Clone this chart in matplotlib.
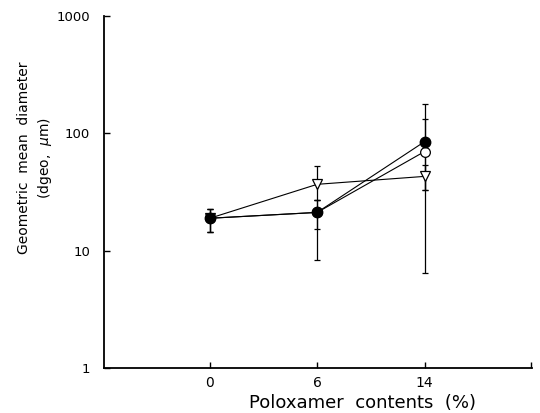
import matplotlib.pyplot as plt

# poloxamer content (%) shown as evenly spaced categories
poloxamer = ['0', '6', '14']
positions = [1, 2, 3]

# geometric mean diameter (um)
filled_mean = [18.9, 21.2, 85]
filled_lo = [14.5, 15.3, 6.4]
filled_hi = [22.5, 27, 179]

open_mean = [18.9, 21.2, 70]
open_lo = [14.5, 8.4, 33]
open_hi = [22.5, 27, 133]

tri_mean = [18.9, 36.8, 43]
tri_lo = [14.5, 27, 33]
tri_hi = [22.5, 53, 54]


def yerr(mean, lo, hi):
    return [[m - l for m, l in zip(mean, lo)], [h - m for m, h in zip(mean, hi)]]


fig = plt.figure(figsize=(5.4, 4.13), dpi=100)
ax = fig.add_axes([0.1926, 0.109, 0.7924, 0.852])

style = dict(color='black', lw=0.8, elinewidth=0.9, capsize=2.2, capthick=0.9)
ax.errorbar(positions, tri_mean, yerr=yerr(tri_mean, tri_lo, tri_hi), marker='v',
            ms=7.5, mfc='white', mec='black', mew=0.9, **style)
ax.errorbar(positions, open_mean, yerr=yerr(open_mean, open_lo, open_hi), marker='o',
            ms=7, mfc='white', mec='black', mew=0.9, **style)
ax.errorbar(positions, filled_mean, yerr=yerr(filled_mean, filled_lo, filled_hi), marker='o',
            ms=7.5, mfc='black', mec='black', **style)

ax.set_yscale('log')
ax.set_ylim(1, 1000)
ax.set_yticks([1, 10, 100, 1000])
ax.set_yticklabels(['1', '10', '100', '1000'])
ax.minorticks_off()

ax.set_xlim(0.015, 4.0)
ax.set_xticks(positions + [3.995])
ax.set_xticklabels(poloxamer + [''])

for s in ['top', 'right']:
    ax.spines[s].set_visible(False)
for s in ['left', 'bottom']:
    ax.spines[s].set_linewidth(1.3)

ax.tick_params(axis='both', direction='in', length=4, width=1, labelsize=9.5, colors='black')
ax.tick_params(axis='y', pad=10)
ax.tick_params(axis='x', pad=6, labelsize=10)

fig.text(0.066, 0.617, 'Geometric  mean  diameter\n(dgeo,  $\\mu$m)', rotation=90,
         ha='center', va='center', fontsize=10, linespacing=1.35)
fig.text(0.672, 0.024, 'Poloxamer  contents  (%)', ha='center', va='center', fontsize=13)

fig.savefig('out.png', dpi=100)
